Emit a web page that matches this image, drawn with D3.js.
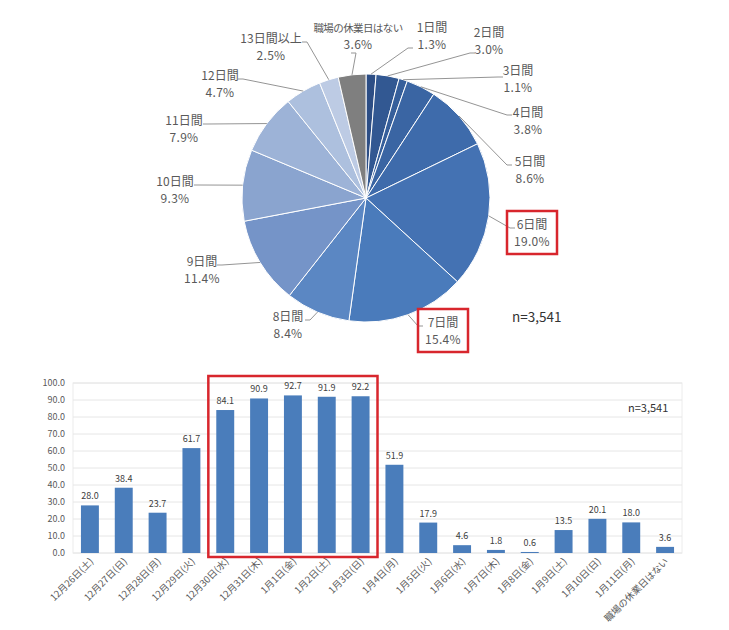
<!DOCTYPE html>
<html><head><meta charset="utf-8">
<script src="https://cdn.jsdelivr.net/npm/d3@7"></script>
<style>
html,body{margin:0;padding:0;background:#fff;}
svg{display:block;font-family:"Noto Sans CJK JP","Noto Sans",sans-serif;}
</style></head>
<body><svg id="c" width="729" height="630"></svg>
<script>
// ---- Pie data ----
const pieCategories = ["1日間","2日間","3日間","4日間","5日間","6日間","7日間","8日間","9日間","10日間","11日間","12日間","13日間以上","職場の休業日はない"];
const pieValues = [1.3,3.0,1.1,3.8,8.6,19.0,15.4,8.4,11.4,9.3,7.9,4.7,2.5,3.6];
const pieColors = ["#2d4e85","#325892","#365f9b","#3a65a3","#3e6bab","#4472b3","#4a7bbb","#5b87c3","#7594c8","#8aa4cf","#9db3d7","#adc0de","#bdcbe4","#7f7f7f"];
const pieHighlight = ["6日間","7日間"];
const sampleLabel = "n=3,541";

// ---- Bar data ----
const barCategories = ["12月26日(土)","12月27日(日)","12月28日(月)","12月29日(火)","12月30日(水)","12月31日(木)","1月1日(金)","1月2日(土)","1月3日(日)","1月4日(月)","1月5日(火)","1月6日(水)","1月7日(木)","1月8日(金)","1月9日(土)","1月10日(日)","1月11日(月)","職場の休業日はない"];
const barValues = [28.0,38.4,23.7,61.7,84.1,90.9,92.7,91.9,92.2,51.9,17.9,4.6,1.8,0.6,13.5,20.1,18.0,3.6];
const yTicks = [0,10,20,30,40,50,60,70,80,90,100];
const barHighlight = ["12月30日(水)","1月3日(日)"];

// ---- layout (label placement, not data) ----
const pieLabelPos = [[432,28],[489,33],[518,71],[528,113],[530,162],[532,225],[443,323],[288,317],[202,262],[175,182],[184,121],[220,76],[271,39],[358,28]];
const pieLeaderStart = [[413,48],[475,53],[503,77],[512,115],[512,165],[515,228],[423,326],[305,320],[217,265],[194,185],[203,124],[238,79],[302,42],[351,53]];

const svg = d3.select("#c");
const red = "#d8262d";
const txt = "#595959";

// ===== Pie =====
const cx = 366, cy = 198, R = 124;
const pie = d3.pie().sort(null).value(d => d)(pieValues);
const arc = d3.arc().innerRadius(0).outerRadius(R);
const gp = svg.append("g").attr("transform", `translate(${cx},${cy})`);
gp.selectAll("path").data(pie).join("path")
  .attr("d", arc).attr("fill", (d,i) => pieColors[i])
  .attr("stroke", "#fff").attr("stroke-width", 1);

// leader lines
pie.forEach((d,i) => {
  const a = (d.startAngle + d.endAngle)/2;
  const ex = cx + R*Math.sin(a), ey = cy - R*Math.cos(a);
  const s = pieLeaderStart[i];
  const right = s[0] > cx;
  const hx = s[0] + (right ? -5 : 5);
  svg.append("polyline")
    .attr("points", `${s[0]},${s[1]} ${hx},${s[1]} ${ex},${ey}`)
    .attr("fill","none").attr("stroke","#959595").attr("stroke-width",1);
});

// labels
pieCategories.forEach((c,i) => {
  const p = pieLabelPos[i];
  const t = svg.append("text").attr("text-anchor","middle").attr("fill",txt).attr("font-size",12);
  const n = t.append("tspan").attr("x",p[0]).attr("y",p[1]+4).text(c);
  if (c.length > 6) n.attr("font-size",10.5).attr("letter-spacing",-0.6);
  t.append("tspan").attr("x",p[0]).attr("y",p[1]+21).attr("letter-spacing",0.3).text(pieValues[i].toFixed(1)+"%");
  if (pieHighlight.includes(c)) {
    svg.append("rect").attr("x",p[0]-25).attr("y",p[1]-14).attr("width",50).attr("height",43)
      .attr("fill","none").attr("stroke",red).attr("stroke-width",2.5);
  }
});
svg.append("text").attr("x",512).attr("y",322).attr("fill","#333").attr("font-size",13.5).text(sampleLabel);

// ===== Bar chart =====
const x = d3.scaleBand().domain(barCategories).range([73,682]).paddingInner(0.47).paddingOuter(0.235);
const y = d3.scaleLinear().domain([0,100]).range([553,383]);

svg.append("rect").attr("x",73).attr("y",383).attr("width",609).attr("height",170)
  .attr("fill","none").attr("stroke","#ececec");
svg.append("g").selectAll("line").data(yTicks).join("line")
  .attr("x1",73).attr("x2",682).attr("y1",d=>y(d)).attr("y2",d=>y(d))
  .attr("stroke","#e6e6e6").attr("stroke-width",1);

const yAxis = svg.append("g").attr("transform","translate(73,0)")
  .call(d3.axisLeft(y).tickValues(yTicks).tickFormat(d3.format(".1f")).tickSize(0).tickPadding(8));
yAxis.select(".domain").remove();
yAxis.selectAll("text").attr("fill",txt).attr("font-size",9).attr("font-family","'Noto Sans CJK JP',sans-serif");

svg.append("g").selectAll("rect").data(barValues).join("rect")
  .attr("x",(d,i)=>x(barCategories[i])).attr("width",x.bandwidth())
  .attr("y",d=>y(d)).attr("height",d=>y(0)-y(d)).attr("fill","#4a7dbb");

svg.append("g").selectAll("text").data(barValues).join("text")
  .attr("x",(d,i)=>x(barCategories[i])+x.bandwidth()/2).attr("y",d=>y(d)-6)
  .attr("text-anchor","middle").attr("font-size",9).attr("fill","#404040").text(d=>d.toFixed(1));

const xl = svg.append("g");
barCategories.forEach(c => {
  const px = x(c)+x.bandwidth()/2+4, py = 562;
  xl.append("text").attr("transform",`translate(${px},${py}) rotate(-45)`)
    .attr("text-anchor","end").attr("font-size",9.5).attr("fill","#5a5a5a").text(c);
});

const bx0 = x(barHighlight[0]) - (x.step()-x.bandwidth())/2;
const bx1 = x(barHighlight[1]) + x.bandwidth() + (x.step()-x.bandwidth())/2;
svg.append("rect").attr("x",bx0).attr("y",376).attr("width",bx1-bx0).attr("height",181)
  .attr("fill","none").attr("stroke",red).attr("stroke-width",2.5);

svg.append("text").attr("x",628).attr("y",412).attr("fill","#333").attr("font-size",11).text(sampleLabel);
</script></body></html>
